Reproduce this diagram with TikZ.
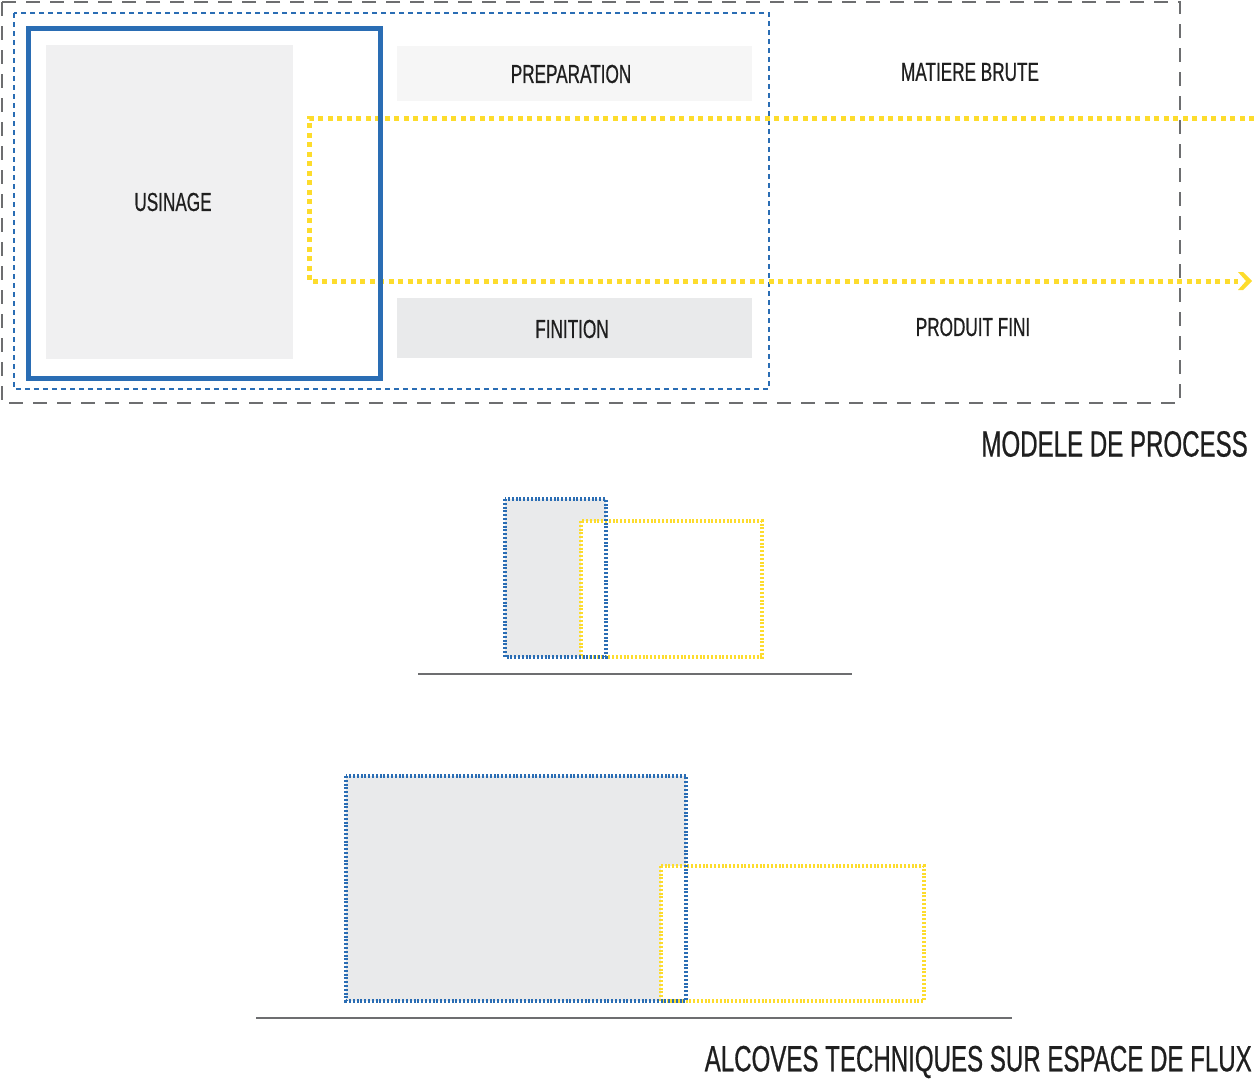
\documentclass[tikz,border=0pt]{standalone}
\usepackage{fontspec}
\setmainfont[FakeStretch=0.66,FakeBold=0.6]{Liberation Sans}
\usetikzlibrary{arrows.meta}
\definecolor{bblue}{HTML}{2A6DB4}
\definecolor{yel}{HTML}{FDDC2C}
\definecolor{dgray}{HTML}{6D6E70}
\definecolor{lgray}{HTML}{F0F0F1}
\definecolor{vlgray}{HTML}{F6F6F6}
\definecolor{mgray}{HTML}{E9EAEB}
\tikzset{
  lbl/.style={font=\fontsize{26}{28}\selectfont, text=black!88, inner sep=0pt},
  title/.style={font=\fontsize{36.5}{40}\selectfont, text=black!88, inner sep=0pt, anchor=east},
  graydash/.style={draw=dgray, line width=2pt, dash pattern=on 14pt off 10pt},
  bluedash/.style={draw=bblue, line width=2pt, dash pattern=on 5pt off 4pt},
  bluedot/.style={draw=bblue, line width=4pt, dash pattern=on 2pt off 1.8pt},
  yeldot/.style={draw=yel, line width=4pt, dash pattern=on 2pt off 1.8pt},
  flow/.style={draw=yel, line width=5pt, dash pattern=on 5pt off 4.5pt},
  baseln/.style={draw=dgray, line width=2pt},
}
\begin{document}
\begin{tikzpicture}[x=1pt,y=-1pt]
\useasboundingbox (0,0) rectangle (1254,1080);
% process model
\draw[graydash] (2,2) rectangle (1180,403);
\draw[bluedash] (14,13) rectangle (769,389);
\fill[lgray] (46,45) rectangle (293,359);
\node[lbl] (usinage) at (173,202) {USINAGE};
\fill[vlgray] (397,46) rectangle (752,101);
\node[lbl] (prep) at (571,74) {PREPARATION};
\fill[mgray] (397,298) rectangle (752,358);
\node[lbl] (fin) at (572,329) {FINITION};
\node[lbl] (brute) at (970,72) {MATIERE BRUTE};
\node[lbl] (fini) at (973,327) {PRODUIT FINI};
\coordinate (fa) at (1254,118);
\coordinate (fb) at (309,118);
\coordinate (fc) at (309,281);
\coordinate (fd) at (1238,281);
\coordinate (tip) at (1252,281);
\draw[flow] (fa) -- (fb) -- (fc) -- (fd);
\fill[yel] (tip) -- ++(-9,-9) -- ++(-5,0) -- ++(8,9) -- ++(-8,9) -- ++(5,0) -- cycle;
\draw[draw=bblue, line width=5pt] (28,28) rectangle (380,378);
\node[title] (t1) at (1248,444) {MODELE DE PROCESS};
% small alcove
\fill[mgray] (505,499) rectangle (606,657);
\draw[yeldot, fill=white] (581,521) rectangle (762,657);
\draw[bluedot] (505,499) rectangle (606,657);
\coordinate (l1a) at (418,674);
\coordinate (l1b) at (852,674);
\draw[baseln] (l1a) -- (l1b);
% large alcove
\fill[mgray] (346,776) rectangle (686,1001);
\draw[yeldot, fill=white] (661,866) rectangle (924,1001);
\draw[bluedot] (346,776) rectangle (686,1001);
\coordinate (l2a) at (256,1018);
\coordinate (l2b) at (1012,1018);
\draw[baseln] (l2a) -- (l2b);
\node[title] (t2) at (1252,1062) {ALCOVES TECHNIQUES SUR ESPACE DE FLUX};
\end{tikzpicture}
\end{document}
